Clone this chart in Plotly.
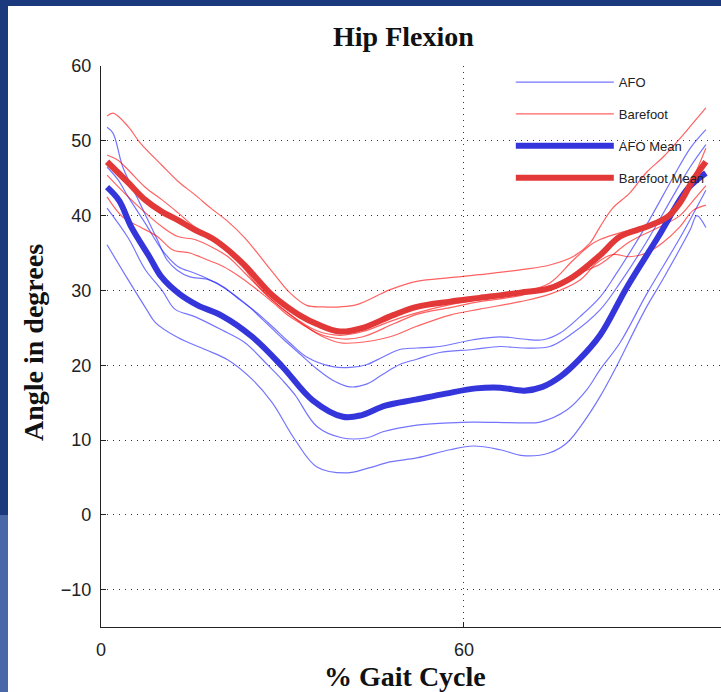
import plotly.graph_objects as go

# ---- % gait cycle / hip angle (degrees) ----
# AFO trials
afo_1_x = [1, 2, 3.6, 6.4, 9.3, 10.9, 12.6, 14.7, 17.5, 20.2, 23.0, 25.8, 28.4, 31.2, 34.0, 38.3, 41.2, 44.0, 46.6, 49.4, 52.2, 56.0, 61.5, 66.0, 69.8, 73.1, 75.9, 79.2, 82.5, 85.0, 90.0, 94.5, 97.4, 100]
afo_1_y = [51.8, 51.0, 46.5, 41.7, 36.8, 34.1, 32.7, 31.8, 31.5, 30.5, 28.7, 27.0, 25.1, 23.0, 21.1, 19.8, 19.7, 20.1, 21.1, 22.1, 22.3, 22.5, 23.4, 23.8, 23.5, 23.4, 24.3, 26.5, 29.1, 32.0, 38.5, 45.0, 49.0, 51.5]

afo_2_x = [1, 2.8, 4.5, 7.3, 10.1, 12.7, 15.5, 18.3, 21.0, 23.8, 26.6, 30.1, 32.9, 35.7, 38.3, 41.2, 44.0, 46.6, 49.4, 52.2, 56.0, 61.5, 66.0, 69.8, 74.2, 78.0, 82.5, 85.8, 90.2, 94.5, 97.4, 100]
afo_2_y = [46.5, 44.8, 42.5, 39.0, 35.4, 33.2, 32.3, 31.3, 30.0, 28.3, 26.2, 23.5, 21.5, 19.5, 18.0, 17.1, 17.5, 18.8, 20.1, 20.8, 21.7, 22.1, 22.5, 22.3, 22.5, 24.3, 27.4, 31.0, 36.5, 42.5, 46.5, 49.5]

afo_3_x = [1, 4.5, 7.3, 10.1, 12.2, 15.5, 20.0, 23.8, 27.6, 30.1, 32.1, 35.7, 39.8, 44.0, 46.6, 52.2, 57.7, 61.5, 69.3, 72.6, 77.0, 80.3, 82.5, 85.8, 90.2, 95.7, 100]
afo_3_y = [41.0, 37.0, 32.8, 30.0, 27.5, 26.5, 24.7, 23.0, 20.0, 17.9, 16.0, 11.8, 10.3, 10.3, 11.1, 12.0, 12.3, 12.4, 12.3, 12.4, 14.0, 16.7, 19.4, 23.0, 29.5, 37.0, 43.4]

afo_4_x = [1, 4.5, 7.5, 9.0, 12.7, 17.2, 21.0, 25.0, 28.3, 32.1, 35.7, 40.7, 44.0, 48.0, 52.2, 57.7, 61.5, 66.0, 69.8, 74.2, 77.0, 79.7, 82.5, 85.0, 90.0, 92.9, 97.4, 98.5, 100]
afo_4_y = [36.1, 31.4, 27.5, 25.7, 23.7, 22.1, 20.7, 18.1, 15.0, 10.0, 6.4, 5.6, 6.2, 7.1, 7.6, 8.7, 9.2, 8.7, 7.9, 8.3, 9.6, 12.3, 15.8, 19.5, 27.5, 31.5, 38.1, 40.0, 38.4]

afo_mean_x = [1, 3, 5, 8, 10, 13, 16, 20, 25, 30, 35, 40, 43, 47, 52, 57, 62, 66, 70, 73, 76, 79, 82.5, 87, 92, 97, 100]
afo_mean_y = [43.8, 42.0, 38.5, 34.5, 31.8, 29.5, 28.0, 26.6, 23.8, 19.8, 15.3, 13.1, 13.3, 14.6, 15.4, 16.2, 16.9, 17.0, 16.6, 17.1, 18.5, 20.7, 24.0, 30.5, 37.0, 43.6, 45.7]

# Barefoot trials
bare_1_x = [1, 2, 4.5, 6.4, 10.1, 12.7, 15.5, 18.3, 21.0, 23.8, 28.4, 31.2, 34.0, 36.7, 39.5, 42.3, 47.8, 52.2, 57.7, 62.6, 69.8, 74.2, 78.0, 80.8, 82.5, 84.6, 87.4, 90.2, 92.9, 95.7, 97.9, 100]
bare_1_y = [53.3, 53.7, 51.9, 49.8, 46.7, 44.6, 42.8, 40.9, 39.2, 37.0, 32.4, 29.7, 28.0, 27.8, 27.8, 28.1, 30.1, 31.2, 31.7, 32.1, 32.8, 33.4, 34.5, 36.3, 38.5, 41.0, 43.0, 45.8, 47.8, 50.3, 52.4, 54.4]

bare_2_x = [1, 2.8, 4.5, 7.3, 10.1, 12.7, 15.5, 18.3, 21.0, 23.8, 25.5, 27.9, 31.2, 35.7, 39.5, 43.3, 48.3, 52.2, 57.7, 62.6, 69.3, 74.2, 78.0, 80.8, 82.5, 87.9, 93.6, 95.7, 97.9, 100]
bare_2_y = [48.1, 47.4, 46.1, 43.8, 42.1, 40.4, 38.5, 37.2, 35.4, 32.8, 31.0, 29.0, 26.8, 24.6, 24.0, 24.5, 26.0, 27.0, 28.1, 28.8, 29.7, 31.0, 34.0, 36.0, 36.8, 38.2, 39.3, 41.5, 45.0, 49.0]

bare_3_x = [1, 4.5, 7.3, 10.1, 12.7, 15.5, 18.3, 21.0, 23.8, 27.9, 31.2, 35.7, 40.0, 43.3, 48.3, 52.2, 57.7, 62.6, 69.3, 74.2, 78.0, 82.5, 87.4, 92.4, 95.7, 97.9, 100]
bare_3_y = [45.4, 42.5, 40.4, 38.5, 37.2, 36.8, 35.8, 34.5, 32.3, 29.0, 26.8, 24.3, 23.5, 23.8, 25.5, 26.8, 27.7, 28.5, 29.3, 30.5, 32.0, 33.5, 36.5, 38.5, 40.0, 42.0, 44.0]

bare_4_x = [1, 3.6, 6.4, 9.3, 11.9, 14.7, 17.5, 20.2, 23.0, 25.8, 28.4, 31.2, 34.0, 36.7, 39.5, 42.3, 47.8, 52.2, 57.7, 62.6, 69.3, 74.2, 79.2, 82.0, 84.6, 87.4, 90.2, 92.9, 95.7, 97.9, 100]
bare_4_y = [42.5, 39.8, 38.5, 37.2, 35.4, 35.0, 34.1, 33.2, 31.8, 30.1, 28.4, 26.5, 25.1, 23.8, 23.0, 23.0, 23.8, 25.2, 26.7, 27.5, 28.5, 29.5, 31.4, 33.7, 34.8, 34.5, 35.0, 36.4, 38.5, 40.7, 41.4]

bare_mean_x = [1, 4.5, 7.3, 10.1, 12.7, 15.5, 18.3, 21.0, 23.8, 25.5, 28.0, 30.1, 33.0, 35.7, 39.5, 43.3, 48.3, 52.2, 57.7, 62.6, 69.3, 74.2, 78.0, 82.5, 85.8, 90.2, 93.6, 95.7, 97.9, 100]
bare_mean_y = [47.2, 44.4, 42.1, 40.5, 39.4, 38.1, 37.0, 35.4, 33.3, 31.8, 29.6, 28.2, 26.6, 25.5, 24.5, 25.0, 26.7, 27.8, 28.5, 29.0, 29.7, 30.3, 31.8, 34.7, 37.2, 38.5, 39.8, 41.7, 44.8, 47.2]

afo_trials = [(afo_1_x, afo_1_y), (afo_2_x, afo_2_y), (afo_3_x, afo_3_y), (afo_4_x, afo_4_y)]
bare_trials = [(bare_1_x, bare_1_y), (bare_2_x, bare_2_y), (bare_3_x, bare_3_y), (bare_4_x, bare_4_y)]

x_ticks = [0, 60]
y_ticks = [-10, 0, 10, 20, 30, 40, 50, 60]

AFO_THIN = "rgba(30,30,255,0.62)"
BARE_THIN = "rgba(255,0,0,0.62)"
AFO_MEAN = "#3535dc"
BARE_MEAN = "#e23838"
NAVY = "#1b3a7e"
NAVY_LIGHT = "#4a67a7"

fig = go.Figure()


def add_group(trials, name, color, width, group):
    for i, (xs, ys) in enumerate(trials):
        fig.add_trace(go.Scatter(
            x=xs, y=ys, mode="lines", name=name,
            line=dict(color=color, width=width, shape="spline", smoothing=1.0),
            legendgroup=group, showlegend=(i == 0), hoverinfo="skip",
        ))


add_group(afo_trials, "AFO", AFO_THIN, 1.2, "g1")
add_group(bare_trials, "Barefoot", BARE_THIN, 1.2, "g2")
add_group([(afo_mean_x, afo_mean_y)], "AFO Mean", AFO_MEAN, 6, "g3")
add_group([(bare_mean_x, bare_mean_y)], "Barefoot Mean", BARE_MEAN, 6, "g4")

axis_common = dict(
    showline=True, linecolor="#222", linewidth=1.3, mirror=False,
    ticks="inside", ticklen=5, tickcolor="#222", tickwidth=1,
    showgrid=True, gridcolor="#333", gridwidth=1, griddash="1px,5px",
    zeroline=False,
    tickfont=dict(family="Liberation Sans, Arial, sans-serif", size=18, color="#222"),
)

fig.update_xaxes(range=[0, 102.5], tickvals=x_ticks, ticklabelstandoff=6, **axis_common)
fig.update_yaxes(range=[-15, 60], tickvals=y_ticks, ticklabelstandoff=5, **axis_common)

serif = dict(family="Liberation Serif, Times New Roman, serif", size=28, color="#111", weight="bold")

fig.update_layout(
    width=721, height=692,
    margin=dict(l=101, r=0, t=66, b=65),
    paper_bgcolor="white", plot_bgcolor="white",
    showlegend=True,
    legend=dict(
        x=0.661, y=0.998, xanchor="left", yanchor="top",
        bgcolor="rgba(0,0,0,0)", borderwidth=0,
        itemwidth=98, tracegroupgap=12,
        font=dict(family="Liberation Sans, Arial, sans-serif", size=13, color="#222"),
    ),
    annotations=[
        dict(text="Hip Flexion", x=0.4887, y=(627 - 37) / 561, xref="paper", yref="paper",
             showarrow=False, font=serif, xanchor="center", yanchor="middle"),
        dict(text="% Gait Cycle", x=0.490, y=(627 - 676) / 561, xref="paper", yref="paper",
             showarrow=False, font=serif, xanchor="center", yanchor="middle"),
        dict(text="Angle in degrees", x=-0.1097, y=0.508, xref="paper", yref="paper",
             showarrow=False, font=serif, textangle=-90, xanchor="center", yanchor="middle"),
    ],
    shapes=[
        # slide background bands
        dict(type="rect", xref="paper", yref="paper", x0=-0.2, x1=1.05,
             ysizemode="pixel", yanchor=1, y0=60, y1=70, fillcolor=NAVY, line_width=0, layer="above"),
        dict(type="rect", xref="paper", yref="paper", xsizemode="pixel", xanchor=0, x0=-105, x1=-93,
             ysizemode="pixel", yanchor=1, y0=-449, y1=70, fillcolor=NAVY, line_width=0, layer="above"),
        dict(type="rect", xref="paper", yref="paper", xsizemode="pixel", xanchor=0, x0=-105, x1=-93,
             ysizemode="pixel", yanchor=1, y0=-640, y1=-449, fillcolor=NAVY_LIGHT, line_width=0, layer="above"),
    ],
)

fig.write_html("out.html")
